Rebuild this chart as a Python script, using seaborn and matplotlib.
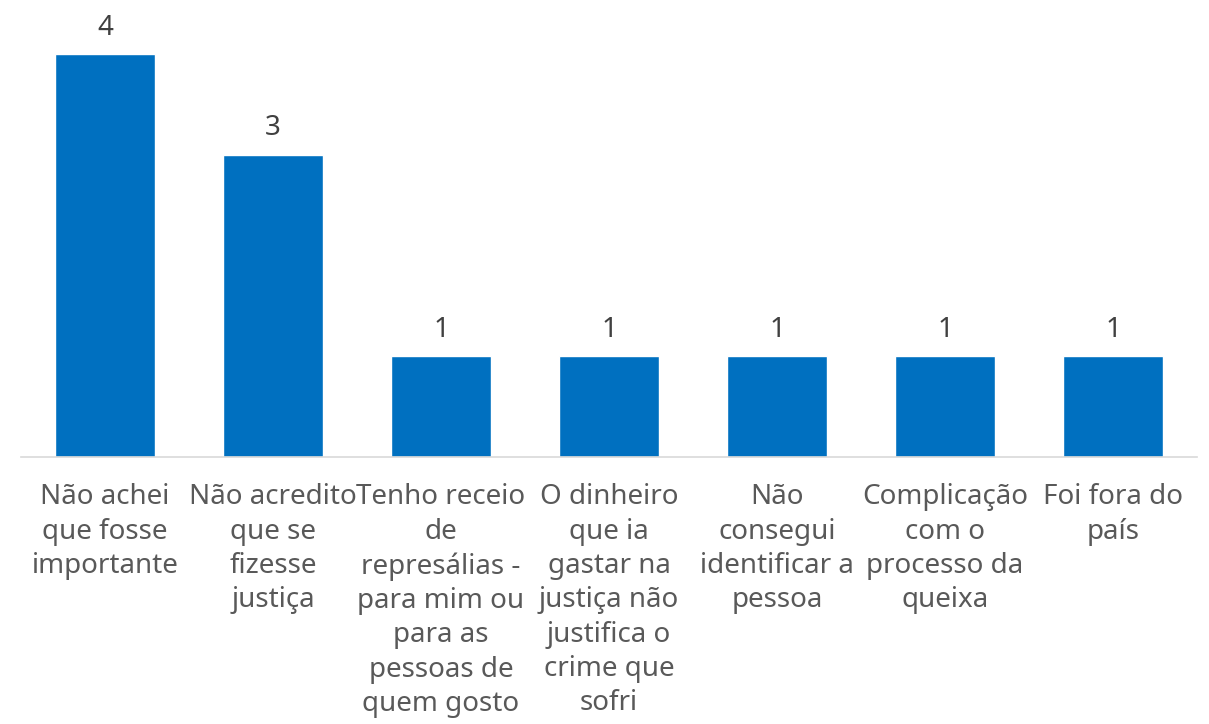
import seaborn as sns
import matplotlib.pyplot as plt
import pandas as pd

# categories as they are wrapped in the reference
categories = [
    'Não achei\nque fosse\nimportante',
    'Não acredito\nque se\nfizesse\njustiça',
    'Tenho receio\nde\nrepresálias -\npara mim ou\npara as\npessoas de\nquem gosto',
    'O dinheiro\nque ia\ngastar na\njustiça não\njustifica o\ncrime que\nsofri',
    'Não\nconsegui\nidentificar a\npessoa',
    'Complicação\ncom o\nprocesso da\nqueixa',
    'Foi fora do\npaís',
]
counts = [4, 3, 1, 1, 1, 1, 1]

df = pd.DataFrame({'motivo': categories, 'n': counts})

sns.set_style('white')
plt.rcParams['font.family'] = ['Noto Sans', 'DejaVu Sans']

fig = plt.figure(figsize=(12.09, 7.24), dpi=100)
ax = fig.add_axes([0.0174, 0.3688, 0.9727, 0.6312])
sns.barplot(data=df, x='motivo', y='n', color='#0070C0', saturation=1, width=0.595, ax=ax)

ax.set_ylim(0, 4.536)
ax.set_xlim(-0.5, len(categories) - 0.5)
for c in ax.containers:
    ax.bar_label(c, fmt='%d', padding=9, fontsize=20, color='#404040')

ax.set_xlabel('')
ax.set_ylabel('')
ax.set_yticks([])
ax.set_xticks(range(len(categories)))
ax.set_xticklabels(categories, linespacing=1.30, fontsize=20, color='#595959')
ax.tick_params(axis='x', length=0, pad=19)
sns.despine(ax=ax, left=True)
ax.spines['bottom'].set_color('#D9D9D9')
ax.spines['bottom'].set_linewidth(1.2)

plt.savefig('out.png', dpi=100)
